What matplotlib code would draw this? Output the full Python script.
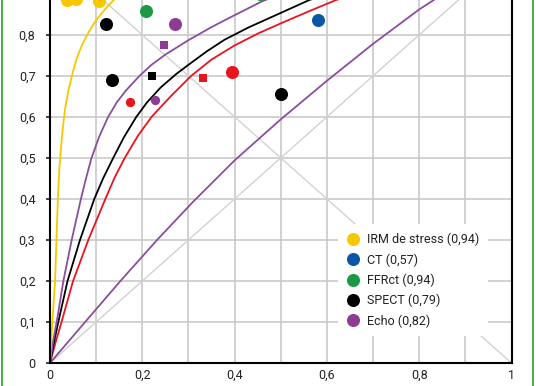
# imports
import matplotlib
matplotlib.use('Agg')
import matplotlib.pyplot as plt
from matplotlib.lines import Line2D


# data
xtick_vals = [0, 0.2, 0.4, 0.6, 0.8, 1.0]
xtick_labels = ['0', '0,2', '0,4', '0,6', '0,8', '1']
ytick_vals = [0, 0.1, 0.2, 0.3, 0.4, 0.5, 0.6, 0.7, 0.8]
ytick_labels = ['0', '0,1', '0,2', '0,3', '0,4', '0,5', '0,6', '0,7', '0,8']

legend_labels = ['IRM de stress (0,94)', 'CT (0,57)', 'FFRct (0,94)',
                 'SPECT (0,79)', 'Echo (0,82)']

# roc curves
irm_x = [0, 0.005, 0.011, 0.014, 0.017, 0.020, 0.025, 0.029, 0.033, 0.04,
         0.047, 0.054, 0.061, 0.07, 0.083, 0.096, 0.11, 0.125, 0.14, 0.2,
         0.4, 1.0]
irm_y = [0, 0.1, 0.2, 0.3, 0.4, 0.47, 0.54, 0.585, 0.622, 0.665,
         0.698, 0.728, 0.752, 0.777, 0.805, 0.829, 0.85, 0.87, 0.887, 0.94,
         0.985, 1.0]

echo_hi_x = [0, 0.007, 0.0145, 0.029, 0.047, 0.067, 0.078, 0.09, 0.107,
             0.126, 0.145, 0.165, 0.194, 0.22, 0.25, 0.3, 0.35, 0.4, 0.46,
             0.55, 0.7, 0.85, 1.0]
echo_hi_y = [0, 0.055, 0.1, 0.2, 0.3, 0.4, 0.45, 0.5, 0.553,
             0.6, 0.636, 0.665, 0.7, 0.727, 0.752, 0.787, 0.819, 0.848, 0.882,
             0.92, 0.96, 0.985, 1.0]

spect_x = [0, 0.009, 0.018, 0.038, 0.065, 0.096, 0.115, 0.137, 0.16, 0.187,
           0.21, 0.24, 0.274, 0.3, 0.34, 0.378, 0.43, 0.497, 0.562, 0.7,
           0.85, 1.0]
spect_y = [0, 0.053, 0.1, 0.2, 0.3, 0.4, 0.45, 0.5, 0.55, 0.6,
           0.635, 0.672, 0.705, 0.727, 0.76, 0.788, 0.818, 0.852, 0.885, 0.935,
           0.975, 1.0]

red_x = [0, 0.012, 0.025, 0.05, 0.083, 0.12, 0.14, 0.162, 0.19, 0.22,
         0.263, 0.306, 0.349, 0.398, 0.45, 0.5, 0.56, 0.62, 0.8, 1.0]
red_y = [0, 0.05, 0.1, 0.2, 0.3, 0.4, 0.452, 0.5, 0.553, 0.6,
         0.652, 0.7, 0.739, 0.773, 0.803, 0.828, 0.857, 0.885, 0.95, 1.0]

echo_lo_x = [0, 0.08, 0.155, 0.232, 0.31, 0.4, 0.5, 0.6, 0.7, 0.8, 0.9, 1.0]
echo_lo_y = [0, 0.105, 0.203, 0.3, 0.393, 0.494, 0.594, 0.688, 0.778, 0.862,
             0.935, 1.0]

# study points
irm_pts_x = [0.037, 0.056, 0.106]
irm_pts_y = [0.884, 0.888, 0.882]
ct_pts_x = [0.58]
ct_pts_y = [0.837]
ffr_pts_x = [0.209, 0.455]
ffr_pts_y = [0.857, 0.9]
spect_pts_x = [0.121, 0.135, 0.50]
spect_pts_y = [0.826, 0.689, 0.656]
spect_sq_x = [0.221]
spect_sq_y = [0.70]
echo_pts_x = [0.27]
echo_pts_y = [0.826]
echo_small_x = [0.228]
echo_small_y = [0.641]
echo_sq_x = [0.246]
echo_sq_y = [0.776]
red_pts_x = [0.395]
red_pts_y = [0.709]
red_small_x = [0.173]
red_small_y = [0.636]
red_sq_x = [0.331]
red_sq_y = [0.696]


# main func
def main():
    plt.rcParams['font.family'] = ['Roboto', 'DejaVu Sans']

    c_yel = '#f7c800'
    c_blue = '#0b57a5'
    c_green = '#1b9a45'
    c_purp = '#8c3d93'
    c_purpline = '#8a4e9c'
    c_red = '#e8141e'
    c_grid = '#c9c9c9'

    fig = plt.figure(figsize=(5.36, 3.86), dpi=100)
    ax = fig.add_axes([50 / 536, 23 / 386, 461.5 / 536, 363 / 386])
    ax.set_xlim(0, 1)
    ax.set_ylim(0, 0.885)

    # grid every 0.1
    for g in [i / 10 for i in range(1, 10)]:
        ax.axvline(g, color=c_grid, lw=1.2, zorder=1)
        ax.axhline(g, color=c_grid, lw=1.2, zorder=1)

    # diagonals
    ax.plot([0, 1], [0, 1], color='#d2d2d2', lw=1.0, zorder=1.5)
    ax.plot([0, 1], [1, 0], color='#d2d2d2', lw=1.0, zorder=1.5)

    # curves
    lkw = dict(lw=1.3, zorder=2, solid_joinstyle='round')
    ax.plot(echo_lo_x, echo_lo_y, color=c_purpline, **lkw)
    ax.plot(red_x, red_y, color=c_red, **lkw)
    ax.plot(spect_x, spect_y, color='black', **lkw)
    ax.plot(echo_hi_x, echo_hi_y, color=c_purpline, **lkw)
    ax.plot(irm_x, irm_y, color=c_yel, **lkw)

    # points
    big, small, sq = 9.4, 6.7, 6.0
    kw = dict(ls='none', zorder=3, clip_on=True, mew=0)
    ax.plot(irm_pts_x, irm_pts_y, 'o', ms=big, color=c_yel, **kw)
    ax.plot(ct_pts_x, ct_pts_y, 'o', ms=big, color=c_blue, **kw)
    ax.plot(ffr_pts_x, ffr_pts_y, 'o', ms=big, color=c_green, **kw)
    ax.plot(spect_pts_x, spect_pts_y, 'o', ms=big, color='black', **kw)
    ax.plot(spect_sq_x, spect_sq_y, 's', ms=sq - 0.6, color='black', **kw)
    ax.plot(echo_pts_x, echo_pts_y, 'o', ms=big, color=c_purp, **kw)
    ax.plot(echo_small_x, echo_small_y, 'o', ms=small, color=c_purp, **kw)
    ax.plot(echo_sq_x, echo_sq_y, 's', ms=sq - 0.4, color=c_purp, **kw)
    ax.plot(red_pts_x, red_pts_y, 'o', ms=big, color=c_red, **kw)
    ax.plot(red_small_x, red_small_y, 'o', ms=small, color=c_red, **kw)
    ax.plot(red_sq_x, red_sq_y, 's', ms=sq + 0.4, color=c_red, **kw)

    # axes styling
    ax.set_xticks(xtick_vals)
    ax.set_xticklabels(xtick_labels)
    ax.set_yticks(ytick_vals)
    ax.set_yticklabels(ytick_labels)
    ax.tick_params(axis='x', length=0, pad=4, labelsize=9, colors='#222222')
    ax.tick_params(axis='y', length=3, width=1.2, pad=7.5, labelsize=9,
                   colors='#222222')
    ax.spines['top'].set_visible(False)
    for s in ['left', 'bottom', 'right']:
        ax.spines[s].set_linewidth(1.5)
        ax.spines[s].set_color('black')
        ax.spines[s].set_zorder(4)

    # legend
    cols = [c_yel, c_blue, c_green, 'black', c_purp]
    handles = [Line2D([], [], ls='none', marker='o', ms=9.4, mew=0, color=c)
               for c in cols]
    leg = ax.legend(handles, legend_labels, loc='upper left',
                    bbox_to_anchor=(0.624, 0.382), borderaxespad=0,
                    frameon=True, fancybox=False, framealpha=1,
                    facecolor='white', edgecolor='none', fontsize=9,
                    handlelength=1.0, handletextpad=0.65, labelspacing=0.55,
                    borderpad=0.7)
    leg.set_zorder(5)
    for t in leg.get_texts():
        t.set_color('#222222')

    # green page border
    for xf in [2 / 536, 533 / 536]:
        fig.add_artist(Line2D([xf, xf], [0, 1], transform=fig.transFigure,
                              color='#4caf50', lw=1.5))

    fig.savefig('out.png', dpi=100)


# running
if __name__ == '__main__':
    main()
